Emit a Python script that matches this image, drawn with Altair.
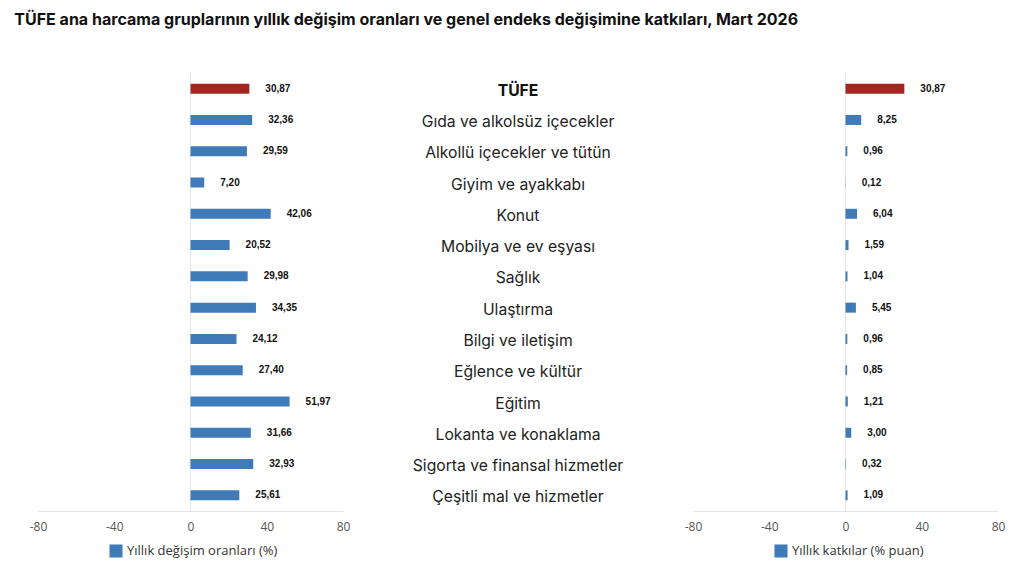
import altair as alt
import pandas as pd

categories = ["TÜFE", "Gıda ve alkolsüz içecekler", "Alkollü içecekler ve tütün",
              "Giyim ve ayakkabı", "Konut", "Mobilya ve ev eşyası", "Sağlık",
              "Ulaştırma", "Bilgi ve iletişim", "Eğlence ve kültür", "Eğitim",
              "Lokanta ve konaklama", "Sigorta ve finansal hizmetler",
              "Çeşitli mal ve hizmetler"]
annual_change = [30.87, 32.36, 29.59, 7.20, 42.06, 20.52, 29.98, 34.35, 24.12,
                 27.40, 51.97, 31.66, 32.93, 25.61]
contribution = [30.87, 8.25, 0.96, 0.12, 6.04, 1.59, 1.04, 5.45, 0.96, 0.85,
                1.21, 3.00, 0.32, 1.09]
x_ticks = [-80, -40, 0, 40, 80]

BLUE = "#3f7ab9"
RED = "#a32623"

df = pd.DataFrame({
    "cat": categories,
    "annual": annual_change,
    "contrib": contribution,
})
df["annual_lbl"] = [f"{v:.2f}".replace(".", ",") for v in annual_change]
df["contrib_lbl"] = [f"{v:.2f}".replace(".", ",") for v in contribution]
df["s1"] = "Yıllık değişim oranları (%)"
df["s2"] = "Yıllık katkılar (% puan)"

W_SIDE = 305
W_MID = 350
H = 438

yenc = alt.Y("cat:N", sort=categories, axis=None,
             scale=alt.Scale(paddingInner=0.5, paddingOuter=0.25))


def side_panel(value_col, label_col, series_col, legend_x):
    base = alt.Chart(df)
    xscale = alt.Scale(domain=[-80, 80], nice=False)
    bars = base.mark_bar(size=10).encode(
        x=alt.X(f"{value_col}:Q", scale=xscale, title=None,
                axis=alt.Axis(values=x_ticks, grid=False, ticks=False,
                              labelFlush=False, labelExpr="'' + datum.value",
                              domainColor="#e3e3e3", labelColor="#555555",
                              labelFont="Open Sans", labelFontSize=12,
                              labelPadding=10)),
        y=yenc,
        color=alt.condition(
            alt.datum.cat == "TÜFE",
            alt.value(RED),
            alt.Color(f"{series_col}:N", title=None,
                      scale=alt.Scale(range=[BLUE]),
                      legend=alt.Legend(orient="none", legendX=legend_x,
                                        legendY=471, symbolType="square",
                                        symbolSize=170, symbolStrokeWidth=0,
                                        labelFont="Open Sans", labelFontSize=13,
                                        labelColor="#333333")),
        ),
    )
    zero = alt.Chart(pd.DataFrame({"z": [0]})).mark_rule(
        color="#e6e6e6", strokeWidth=1).encode(x=alt.X("z:Q", scale=xscale))
    labels = base.mark_text(align="left", baseline="middle", dx=16,
                            font="Liberation Sans", fontWeight="bold",
                            fontSize=10, color="#111111").encode(
        x=alt.X(f"{value_col}:Q", scale=xscale),
        y=yenc,
        text=f"{label_col}:N",
    )
    return alt.layer(zero, bars, labels).properties(width=W_SIDE, height=H)


left = side_panel("annual", "annual_lbl", "s1", 71)
right = side_panel("contrib", "contrib_lbl", "s2", 81)

mid_base = alt.Chart(df)
mid_norm = mid_base.transform_filter(alt.datum.cat != "TÜFE").mark_text(
    font="Inter", fontSize=15.7, color="#222222", baseline="middle", dy=2).encode(
    y=yenc, x=alt.value(W_MID / 2), text="cat:N")
mid_bold = mid_base.transform_filter(alt.datum.cat == "TÜFE").mark_text(
    font="Inter", fontSize=15.7, fontWeight="bold", color="#111111",
    baseline="middle", dy=2).encode(
    y=yenc, x=alt.value(W_MID / 2), text="cat:N")
mid = alt.layer(mid_norm, mid_bold).properties(width=W_MID, height=H)

chart = alt.hconcat(left, mid, right, spacing=0, bounds="flush").resolve_scale(
    color="independent", y="shared").resolve_legend(color="independent").properties(
    title=alt.TitleParams(
        "TÜFE ana harcama gruplarının yıllık değişim oranları ve genel endeks değişimine katkıları, Mart 2026",
        anchor="start", font="Inter", fontSize=16.05, fontWeight="bold",
        color="#111111", offset=44, dx=-15),
    padding={"left": 6, "top": 4, "right": 5, "bottom": 5},
    background="white",
).configure_view(strokeWidth=0, stroke=None)

chart.save("out.html", embed_options={"renderer": "svg", "actions": False})
